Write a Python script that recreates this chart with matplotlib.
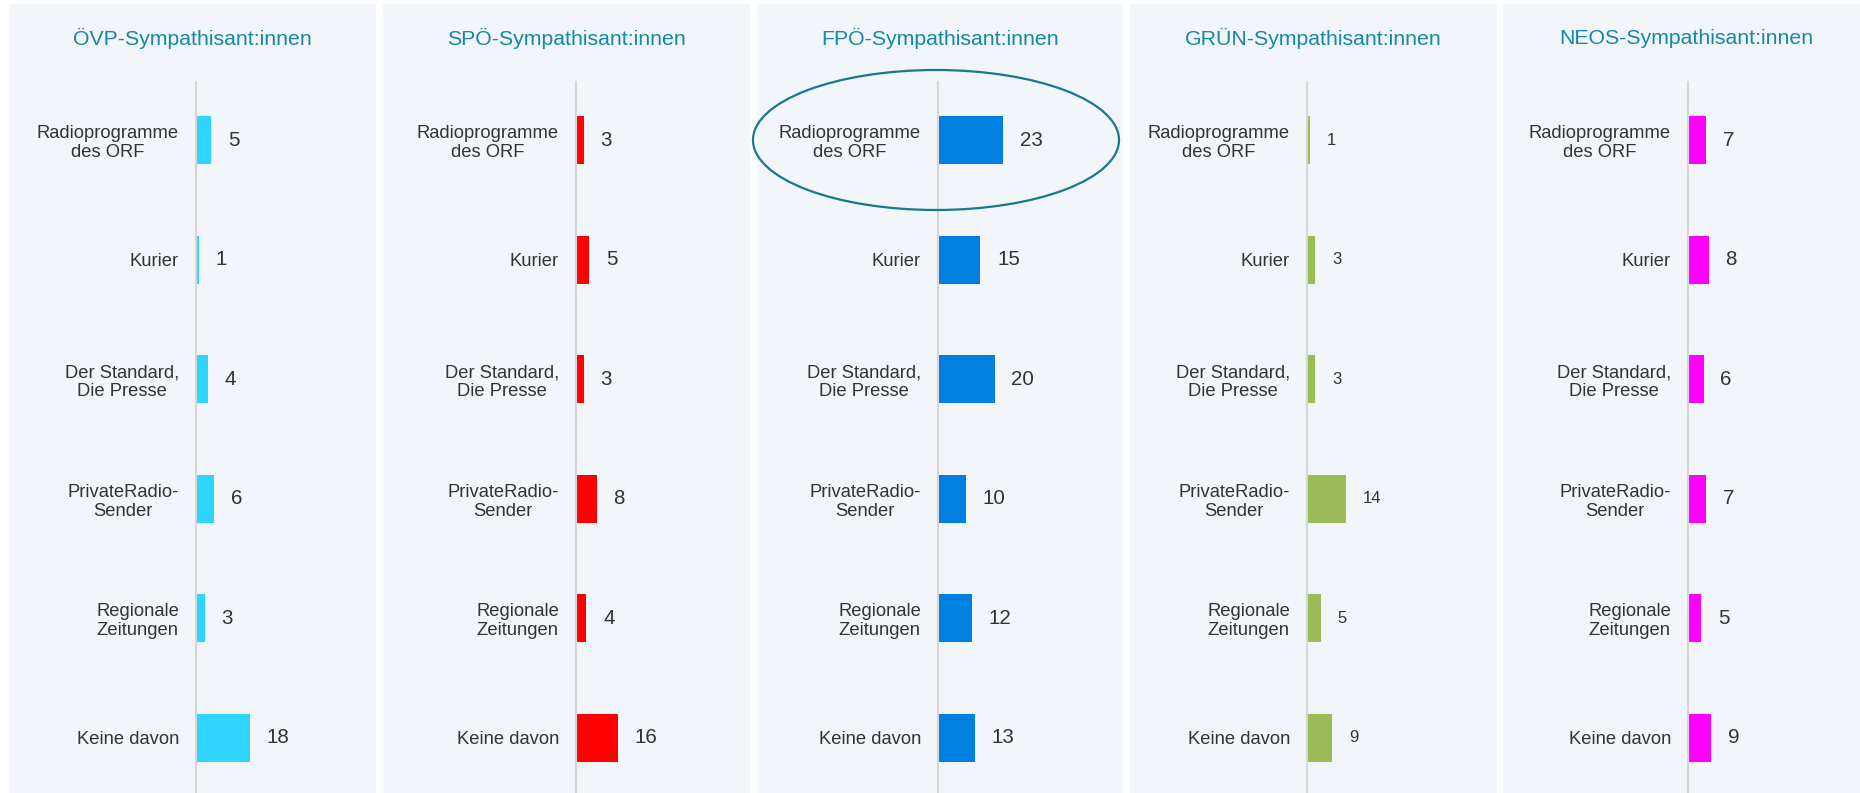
import matplotlib.pyplot as plt
from matplotlib.patches import Rectangle, Ellipse

plt.rcParams['font.family'] = ['Liberation Sans', 'DejaVu Sans']

categories = ["Radioprogramme\ndes ORF", "Kurier", "Der Standard,\nDie Presse",
              "PrivateRadio-\nSender", "Regionale\nZeitungen", "Keine davon"]
groups = ["ÖVP-Sympathisant:innen", "SPÖ-Sympathisant:innen", "FPÖ-Sympathisant:innen",
          "GRÜN-Sympathisant:innen", "NEOS-Sympathisant:innen"]
oevp = [5, 1, 4, 6, 3, 18]
spoe = [3, 5, 3, 8, 4, 16]
fpoe = [23, 15, 20, 10, 12, 13]
gruen = [1, 3, 3, 14, 5, 9]
neos = [7, 8, 6, 7, 5, 9]
series = [oevp, spoe, fpoe, gruen, neos]
colors = ["#2ED6FF", "#FF0000", "#0080E0", "#9BBB59", "#FF00FF"]

W, H = 1860, 793
fig = plt.figure(figsize=(W / 100, H / 100), dpi=100)
fig.patch.set_facecolor("white")

# panel layout in pixels: (left, right, spine x, px per unit)
panels = [(9, 376, 196, 3.0), (383, 750, 576, 2.6), (757, 1123, 938, 2.83),
          (1130, 1497, 1307, 2.8), (1503, 1869, 1688, 2.6)]
val_sizes = [14.8, 14.8, 14.8, 12, 14.8]

for i, (l, r, sx, scale) in enumerate(panels):
    fig.add_artist(Rectangle((l / W, 0), (r - l) / W, (H - 4) / H,
                             transform=fig.transFigure, facecolor="#F2F5F9",
                             edgecolor="none", zorder=0))
    fig.text((l + r) / 2 / W, 1 - 38 / H, groups[i], ha="center", va="center",
             fontsize=15.3, color="#1787A6")

    ax = fig.add_axes([sx / W, 0, (r - sx) / W, (H - 82) / H])
    ax.patch.set_alpha(0)
    y = list(range(len(categories)))
    bars = ax.barh(y, series[i], height=0.4, color=colors[i])
    ax.set_ylim(5.46, -0.485)
    ax.set_xlim(0, (r - sx) / scale)
    ax.set_yticks(y)
    ax.set_yticklabels(categories, fontsize=13.2, color="#333333", linespacing=1.15,
                       ha="right", multialignment="center")
    ax.tick_params(axis="y", length=0, pad=12.2)
    ax.set_xticks([])
    for s in ["top", "right", "bottom"]:
        ax.spines[s].set_visible(False)
    ax.spines["left"].set_color("#D6D6D6")
    ax.spines["left"].set_linewidth(1.5)
    ax.bar_label(bars, padding=12, fontsize=val_sizes[i], color="#333333")

# highlight ring around FPÖ radio bar
fig.add_artist(Ellipse((936 / W, 1 - 140 / H), 366 / W, 140 / H,
                       transform=fig.transFigure, facecolor="none",
                       edgecolor="#17788F", linewidth=1.6, zorder=5))

fig.savefig("out.png", dpi=100, facecolor="white")
